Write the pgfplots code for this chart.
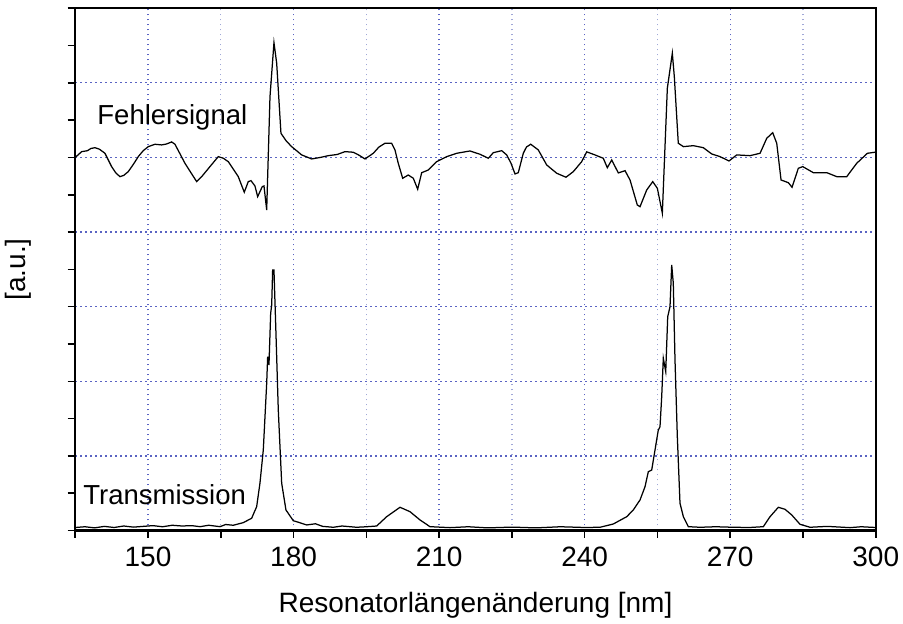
\documentclass[border=0pt]{standalone}
\usepackage{pgfplots}
\pgfplotsset{compat=1.18}
\usepackage{fontspec}
\setmainfont{Liberation Sans}
\definecolor{gridmaj}{RGB}{90,100,195}
\definecolor{gridmin}{RGB}{160,168,215}
\pgfplotstableread{
x y
135.00 5.000
136.32 5.078
137.50 5.090
138.20 5.120
139.06 5.131
140.00 5.110
141.12 5.056
142.50 4.877
143.40 4.790
144.21 4.743
145.00 4.760
145.93 4.810
147.00 4.910
147.99 5.011
149.00 5.090
150.05 5.145
151.43 5.177
152.81 5.168
153.80 5.180
154.87 5.208
155.55 5.177
156.50 5.060
157.61 4.922
159.00 4.780
160.03 4.676
161.06 4.743
162.80 4.880
164.48 5.011
165.50 4.990
166.54 4.944
168.60 4.743
169.84 4.534
170.66 4.676
171.22 4.689
172.04 4.618
172.60 4.475
173.55 4.609
173.90 4.618
174.46 4.296
175.14 5.815
175.96 6.539
176.52 6.263
177.40 5.324
178.50 5.220
179.61 5.145
181.67 5.034
183.73 4.980
185.50 5.000
187.15 5.024
189.00 5.040
190.60 5.078
192.31 5.070
193.50 5.030
194.72 4.980
196.43 5.056
197.60 5.140
198.84 5.190
200.22 5.190
200.90 5.101
201.58 4.922
202.49 4.721
203.65 4.765
204.68 4.721
205.58 4.574
206.41 4.796
207.77 4.832
209.50 4.944
211.56 5.011
213.62 5.056
216.36 5.087
218.43 5.043
220.14 4.989
221.17 5.064
222.90 5.091
223.93 5.034
224.82 4.922
225.64 4.779
226.32 4.796
227.35 5.056
228.00 5.140
228.88 5.177
230.44 5.101
232.18 4.899
234.24 4.788
236.15 4.735
237.66 4.810
239.39 4.944
240.42 5.075
242.13 5.034
243.84 4.989
244.67 4.863
245.58 4.966
246.94 4.792
248.32 4.823
249.35 4.698
250.85 4.363
251.41 4.340
252.79 4.564
254.03 4.676
254.98 4.587
256.01 4.252
257.04 5.928
258.07 6.397
258.48 6.083
259.30 5.190
260.34 5.145
262.40 5.158
264.46 5.131
266.19 5.047
267.90 5.011
269.76 4.953
271.34 5.034
274.09 5.024
276.15 5.056
277.53 5.257
278.76 5.332
279.59 5.190
280.48 4.698
281.98 4.662
282.74 4.601
284.04 4.855
284.95 4.877
287.13 4.796
289.90 4.796
291.96 4.743
294.02 4.743
296.08 4.922
298.27 5.056
299.85 5.070
}\fehler
\pgfplotstableread{
x y
135.00 0.040
137.00 0.050
139.00 0.035
141.00 0.055
143.00 0.040
145.00 0.060
147.00 0.045
149.00 0.055
151.00 0.065
153.00 0.050
155.00 0.070
157.00 0.060
159.00 0.065
160.71 0.051
162.50 0.070
164.83 0.051
166.00 0.080
167.57 0.070
169.63 0.105
171.36 0.164
172.39 0.319
173.07 0.633
173.76 1.079
174.46 1.973
174.66 2.330
174.93 2.218
175.28 2.912
175.49 3.023
175.69 3.492
175.96 3.492
176.37 2.643
176.85 1.615
177.55 0.633
178.43 0.275
179.94 0.131
181.00 0.110
182.70 0.074
184.50 0.090
186.00 0.055
188.18 0.043
190.00 0.060
193.01 0.043
195.00 0.050
197.13 0.060
199.19 0.185
201.94 0.311
204.00 0.252
206.06 0.141
208.12 0.051
212.24 0.038
216.00 0.050
220.00 0.035
225.00 0.045
230.00 0.035
235.00 0.050
240.00 0.040
243.16 0.043
245.90 0.087
248.67 0.185
250.03 0.275
251.41 0.409
252.44 0.587
253.12 0.788
253.82 0.811
254.50 1.079
255.18 1.347
255.53 1.391
255.88 1.794
256.21 2.308
256.71 2.129
257.12 2.866
257.59 3.000
257.94 3.559
258.27 3.314
258.62 2.286
259.10 1.257
259.65 0.365
260.34 0.185
261.37 0.051
263.78 0.043
267.00 0.050
270.64 0.043
274.00 0.040
276.83 0.051
278.21 0.185
279.92 0.311
281.30 0.284
282.68 0.208
284.39 0.083
286.45 0.043
290.00 0.055
294.70 0.038
297.00 0.050
300.00 0.040
}\trans
\begin{document}
\begin{tikzpicture}
\begin{axis}[
  scale only axis,
  width=320.2pt, height=208.9pt,
  xmin=135, xmax=300, ymin=0, ymax=7,
  xtick={150,180,...,300},
  minor xtick={135,165,195,225,255,285},
  ytick={0,1,...,7},
  minor ytick={0.5,1.5,...,6.5},
  yticklabels={},
  xtick pos=bottom, ytick pos=left,
  tick align=outside,
  major tick length=3pt, minor tick length=3pt,
  tick style={black, line width=0.6pt},
  axis line style={line width=0.9pt},
  xmajorgrids, xminorgrids, ymajorgrids,
  major grid style={gridmaj, line width=0.5pt, dash pattern=on 0.6pt off 1.4pt},
  minor grid style={gridmin, line width=0.5pt, dash pattern=on 0.6pt off 1.4pt},
  /pgf/number format/assume math mode=true,
  tick label style={font=\fontsize{11.2}{13}\selectfont},
  label style={font=\fontsize{11.2}{13}\selectfont},
  xlabel={Resonatorlängenänderung [nm]},
  ylabel={[a.u.]},
  xlabel style={at={(axis description cs:0.5,-0.1427)}, anchor=center},
  ylabel style={at={(axis description cs:-0.0715,0.5)}, anchor=center},
]
\addplot[black, line width=0.5pt] table[x=x,y=y] {\fehler};
\addplot[black, line width=0.5pt] table[x=x,y=y] {\trans};
\node[anchor=base west, inner sep=0pt, font=\fontsize{11}{13}\selectfont] at (axis cs:139.47,5.436) {Fehlersignal};
\node[anchor=base west, inner sep=0pt, font=\fontsize{11}{13}\selectfont] at (axis cs:136.59,0.342) {Transmission};
\end{axis}
\pgfresetboundingbox
\path ([shift={(-30.1pt,-37.4pt)}]current axis.south west) rectangle ([shift={(10.9pt,3.3pt)}]current axis.north east);
\end{tikzpicture}
\end{document}
